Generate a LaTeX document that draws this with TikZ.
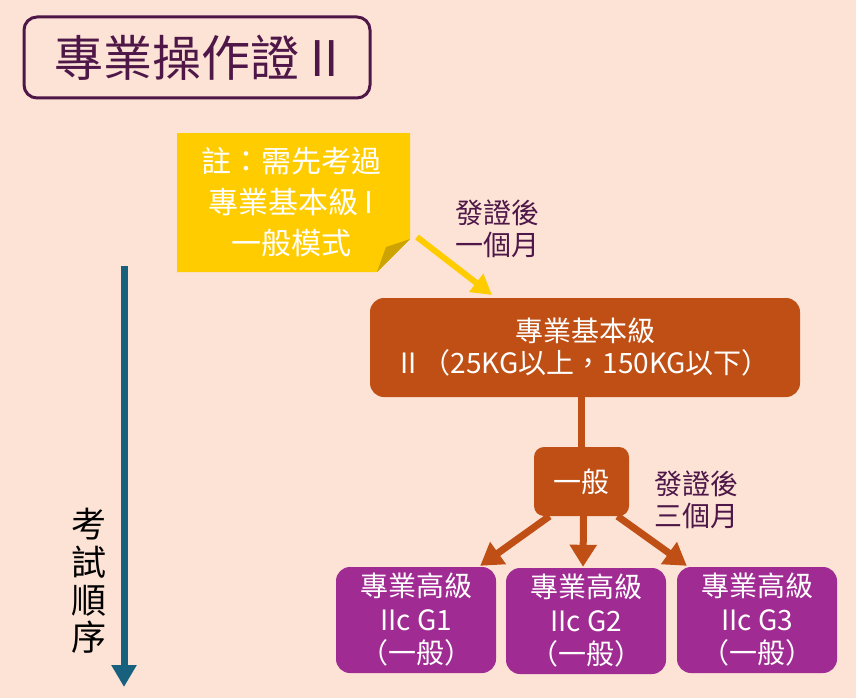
\documentclass[tikz,border=0pt]{standalone}
\usepackage{fontspec}
\setmainfont{Noto Sans CJK TC}
\usetikzlibrary{arrows.meta,calc}
\definecolor{bgc}{HTML}{FCE3D6}
\definecolor{titlec}{HTML}{4E1748}
\definecolor{notec}{HTML}{FFCC00}
\definecolor{foldc}{HTML}{CCA300}
\definecolor{brownc}{HTML}{BF4F14}
\definecolor{purplec}{HTML}{A02B93}
\definecolor{bluec}{HTML}{17617F}
\tikzset{
  brownbox/.style={fill=brownc, rounded corners=14pt, text=white, align=center, inner sep=0pt},
  advbox/.style={fill=purplec, rounded corners=14pt, text=white, align=center, inner sep=0pt,
     minimum width=160pt, minimum height=106pt, font=\fontsize{28}{33.5}\selectfont},
  lbl/.style={text=titlec, align=left, font=\fontsize{28}{31.5}\selectfont, inner sep=0pt},
  brownarrow/.style={draw=brownc, line width=7pt, -{Triangle[width=26pt,length=22pt]}},
}
\begin{document}
\begin{tikzpicture}[x=1pt,y=-1pt]
\fill[bgc] (0,0) rectangle (856,698);
\useasboundingbox (0,0) rectangle (856,698);

% title
\node (title) [draw=titlec, line width=3pt, rounded corners=13pt, minimum width=346pt, minimum height=81pt,
  text=titlec, font=\fontsize{49}{55}\selectfont, inner sep=0pt] at (197,57.5) {專業操作證 II};

% yellow note
\fill[notec] (177,133) -- (410,133) -- (410,239) -- (377,272) -- (177,272) -- cycle;
\fill[foldc] (377,272) -- (386,247) -- (410,239) -- cycle;
\node (note) [text=white, align=center, font=\fontsize{30}{41}\selectfont, inner sep=0pt] at (291,202)
  {註：需先考過\\專業基本級 I\\一般模式};

% label 1
\node (lab1) [lbl] at (497,229) {發證後\\一個月};

% basic box
\node (basic) [brownbox, minimum width=430pt, minimum height=99pt, font=\fontsize{28}{32}\selectfont] at (585,347.5)
  {專業基本級\\II （25KG以上，150KG以下）};

% general box
\node (general) [brownbox, rounded corners=10pt, minimum width=95pt, minimum height=69pt, font=\fontsize{28}{32}\selectfont] at (581.5,481.5) {一般};

% yellow arrow
\coordinate (ya) at (417,237);
\coordinate (yb) at (492,295);
\draw[draw=notec, line width=6pt, -{Triangle[width=22pt,length=20pt]}] (ya) -- (yb);

% connector basic -> general
\draw[draw=brownc, line width=7pt] (basic.south -| general.north) -- (general.north);

% label 2
\node (lab2) [lbl] at (696,500) {發證後\\三個月};

% advanced boxes
\node (adv1) [advbox] at (416,620) {專業高級\\IIc G1\\（一般）};
\node (adv2) [advbox] at (586,621) {專業高級\\IIc G2\\（一般）};
\node (adv3) [advbox] at (757,620) {專業高級\\IIc G3\\（一般）};

\draw[brownarrow] ($(general.south)+(-32,0)$) -- ($(adv1.north east)+(-16,-1)$);
\draw[brownarrow] ($(general.south)+(2,0)$) -- ($(adv2.north)+(-3,-1)$);
\draw[brownarrow] ($(general.south)+(36,0)$) -- ($(adv3.north west)+(10,-1)$);

% order arrow
\coordinate (otop) at (124,266);
\coordinate (obot) at (124,687);
\draw[draw=bluec, line width=7pt, -{Triangle[width=24pt,length=22pt]}] (otop) -- (obot);
\node (ordertxt) [align=center, font=\fontsize{35}{37.7}\selectfont, inner sep=0pt] at (89,581) {考\\試\\順\\序};
\end{tikzpicture}
\end{document}
